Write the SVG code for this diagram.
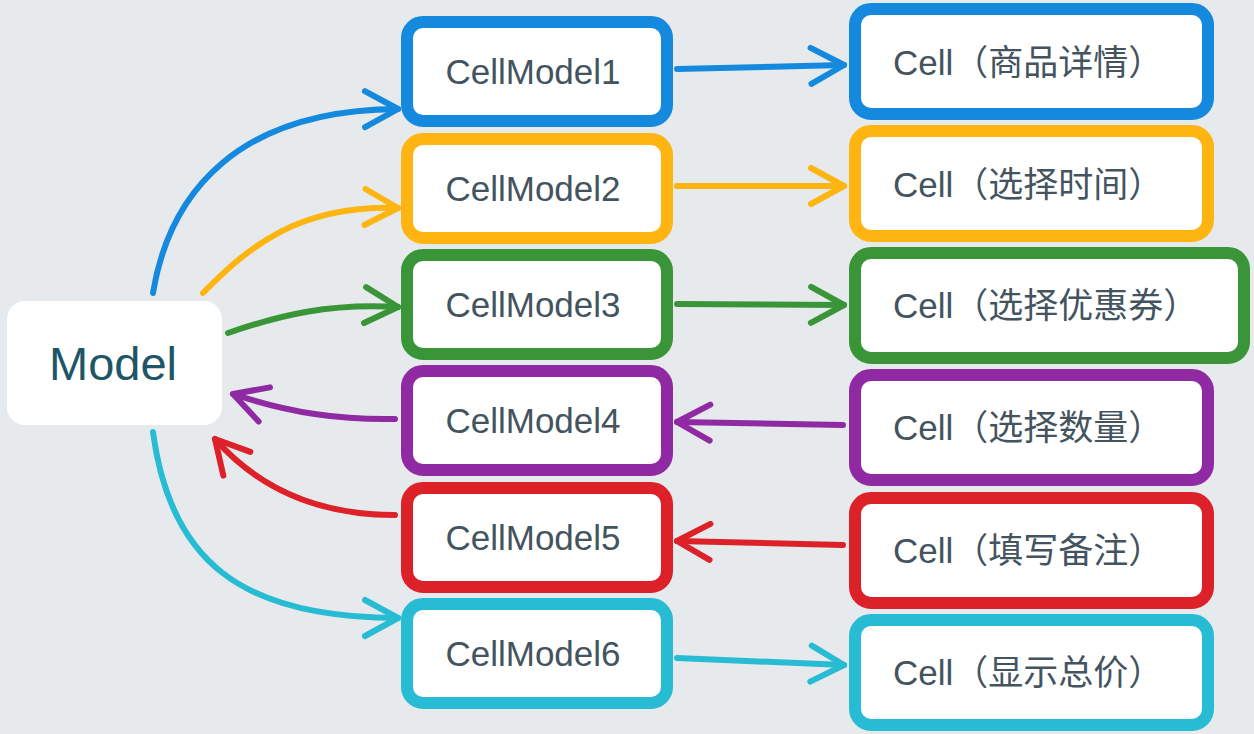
<svg xmlns="http://www.w3.org/2000/svg" width="1254" height="734" viewBox="0 0 1254 734">
  <style>
    .box { fill: #ffffff; stroke-width: 12; }
    .lbl { font-family: "Liberation Sans", "Noto Sans CJK SC", sans-serif; font-size: 35px; fill: #44545f; }
    .cm { text-anchor: middle; }
    .conn { fill: none; stroke-width: 6; stroke-linecap: round; stroke-linejoin: round; }
    .head { fill: none; stroke-width: 6; stroke-linecap: round; stroke-linejoin: round; }
    .blue { stroke: #1589de; }
    .orange { stroke: #ffb511; }
    .green { stroke: #3a9539; }
    .purple { stroke: #902aa3; }
    .red { stroke: #dd2129; }
    .cyan { stroke: #27bcd3; }
  </style>
  <defs>
    <marker id="ah-blue" markerUnits="userSpaceOnUse" orient="auto" markerWidth="80" markerHeight="80" refX="0" refY="0" viewBox="-40 -40 80 80" overflow="visible">
      <path class="head blue" d="M-33,-18 L0,0 L-33,18"/>
    </marker>
    <marker id="ah-orange" markerUnits="userSpaceOnUse" orient="auto" markerWidth="80" markerHeight="80" refX="0" refY="0" viewBox="-40 -40 80 80" overflow="visible">
      <path class="head orange" d="M-33,-18 L0,0 L-33,18"/>
    </marker>
    <marker id="ah-green" markerUnits="userSpaceOnUse" orient="auto" markerWidth="80" markerHeight="80" refX="0" refY="0" viewBox="-40 -40 80 80" overflow="visible">
      <path class="head green" d="M-33,-18 L0,0 L-33,18"/>
    </marker>
    <marker id="ah-purple" markerUnits="userSpaceOnUse" orient="auto" markerWidth="80" markerHeight="80" refX="0" refY="0" viewBox="-40 -40 80 80" overflow="visible">
      <path class="head purple" d="M-33,-18 L0,0 L-33,18"/>
    </marker>
    <marker id="ah-red" markerUnits="userSpaceOnUse" orient="auto" markerWidth="80" markerHeight="80" refX="0" refY="0" viewBox="-40 -40 80 80" overflow="visible">
      <path class="head red" d="M-33,-18 L0,0 L-33,18"/>
    </marker>
    <marker id="ah-cyan" markerUnits="userSpaceOnUse" orient="auto" markerWidth="80" markerHeight="80" refX="0" refY="0" viewBox="-40 -40 80 80" overflow="visible">
      <path class="head cyan" d="M-33,-18 L0,0 L-33,18"/>
    </marker>
  </defs>

  <rect x="0" y="0" width="1254" height="734" fill="#e6eaed"/>

  <g id="connectors">
    <path class="conn blue" d="M153,293 C170,190 240,110 398,109" marker-end="url(#ah-blue)"/>
    <path class="conn orange" d="M203,293 C250,245 300,205 398,208" marker-end="url(#ah-orange)"/>
    <path class="conn green" d="M228,333 C280,315 330,303 398,307" marker-end="url(#ah-green)"/>
    <path class="conn purple" d="M395,419 C340,420 290,413 233,394" marker-end="url(#ah-purple)"/>
    <path class="conn red" d="M395,515 C320,515 260,490 215,439" marker-end="url(#ah-red)"/>
    <path class="conn cyan" d="M153,432 C170,560 240,618 398,618" marker-end="url(#ah-cyan)"/>

    <path class="conn blue" d="M677,69 L844,65" marker-end="url(#ah-blue)"/>
    <path class="conn orange" d="M677,186 L844,186" marker-end="url(#ah-orange)"/>
    <path class="conn green" d="M677,304 L844,305" marker-end="url(#ah-green)"/>
    <path class="conn purple" d="M843,425 L677,422" marker-end="url(#ah-purple)"/>
    <path class="conn red" d="M843,545 L677,541" marker-end="url(#ah-red)"/>
    <path class="conn cyan" d="M677,658 L844,665" marker-end="url(#ah-cyan)"/>
  </g>

  <g id="model">
    <rect x="7" y="301" width="215" height="124" rx="18" fill="#ffffff"/>
    <text x="113" y="380" text-anchor="middle" font-family="Liberation Sans, sans-serif" font-size="47" fill="#1f5667">Model</text>
  </g>

  <g id="cellmodel1">
    <rect class="box blue" x="407" y="22" width="260" height="99" rx="16"/>
    <text class="lbl cm" x="533" y="84">CellModel1</text>
  </g>
  <g id="cellmodel2">
    <rect class="box orange" x="407" y="139" width="260" height="99" rx="16"/>
    <text class="lbl cm" x="533" y="201">CellModel2</text>
  </g>
  <g id="cellmodel3">
    <rect class="box green" x="407" y="255" width="260" height="99" rx="16"/>
    <text class="lbl cm" x="533" y="317">CellModel3</text>
  </g>
  <g id="cellmodel4">
    <rect class="box purple" x="407" y="371" width="260" height="99" rx="16"/>
    <text class="lbl cm" x="533" y="433">CellModel4</text>
  </g>
  <g id="cellmodel5">
    <rect class="box red" x="407" y="488" width="260" height="99" rx="16"/>
    <text class="lbl cm" x="533" y="550">CellModel5</text>
  </g>
  <g id="cellmodel6">
    <rect class="box cyan" x="407" y="604" width="260" height="99" rx="16"/>
    <text class="lbl cm" x="533" y="666">CellModel6</text>
  </g>

  <g id="cell1">
    <rect class="box blue" x="855" y="9" width="353" height="105" rx="16"/>
    <text class="lbl" x="893" y="75">Cell（商品详情）</text>
  </g>
  <g id="cell2">
    <rect class="box orange" x="855" y="131" width="353" height="105" rx="16"/>
    <text class="lbl" x="893" y="197">Cell（选择时间）</text>
  </g>
  <g id="cell3">
    <rect class="box green" x="855" y="253" width="389" height="105" rx="16"/>
    <text class="lbl" x="893" y="318">Cell（选择优惠券）</text>
  </g>
  <g id="cell4">
    <rect class="box purple" x="855" y="375" width="353" height="105" rx="16"/>
    <text class="lbl" x="893" y="440">Cell（选择数量）</text>
  </g>
  <g id="cell5">
    <rect class="box red" x="855" y="498" width="353" height="105" rx="16"/>
    <text class="lbl" x="893" y="563">Cell（填写备注）</text>
  </g>
  <g id="cell6">
    <rect class="box cyan" x="855" y="620" width="353" height="105" rx="16"/>
    <text class="lbl" x="893" y="685">Cell（显示总价）</text>
  </g>
</svg>
